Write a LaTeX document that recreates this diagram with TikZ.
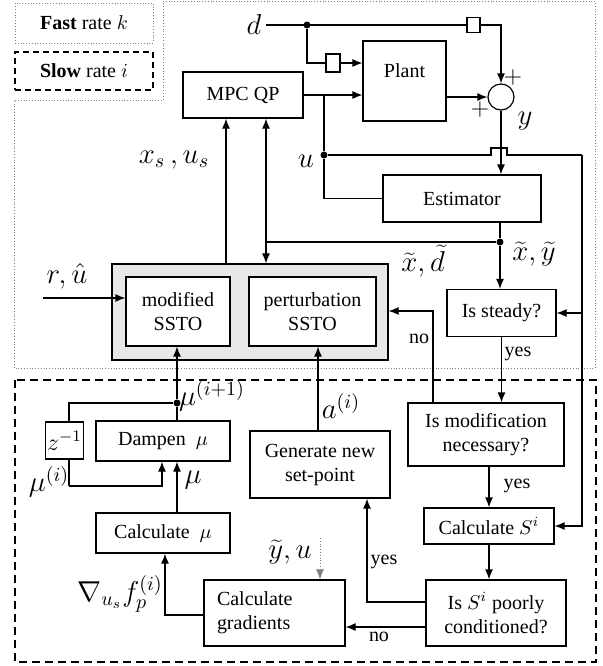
\documentclass[tikz,border=0pt]{standalone}
\usepackage{fontspec}
\setmainfont{Liberation Serif}
\usetikzlibrary{arrows.meta}
\newdimen\pu \pu=0.5pt

\begin{document}
\begin{tikzpicture}[x=0.5pt,y=-0.5pt,
  blk/.style={draw,semithick,fill=white,align=center,inner sep=1pt},
  ln/.style={draw,semithick},
  arr/.style={draw,semithick,-{Latex[length=5pt,width=4pt]}},
  lbl/.style={font=\Large,inner sep=0pt},
  txt/.style={inner sep=0pt},
  dot/.style={circle,fill,inner sep=0pt,minimum size=3.5pt}]
\useasboundingbox (0,0) rectangle (603,666);

% rate regions and key
\draw[densely dotted,gray] (163,1) -- (595,1) -- (595,368) -- (14,368) -- (14,100) -- (163,100) -- cycle;
\draw[semithick,dash pattern=on 4pt off 2.5pt] (15,380) rectangle (596,662);
\node[draw,densely dotted,gray,text=black,minimum width=138\pu,minimum height=40\pu] (fastkey) at (84,23) {\textbf{Fast} rate $k$};
\node[draw,semithick,dash pattern=on 3pt off 2pt,minimum width=138\pu,minimum height=38\pu] (slowkey) at (84,71) {\textbf{Slow} rate $i$};

% fast loop
\node[blk,minimum width=120\pu,minimum height=46\pu] (mpc) at (243,95) {MPC QP};
\node[blk,minimum width=83\pu,minimum height=80\pu] (plant) at (404.5,81) {};
\node[txt] (plantlbl) at (404.5,71) {Plant};
\node[draw,semithick,circle,minimum size=26\pu,inner sep=0pt] (sum) at (501,97) {};
\node[blk,minimum width=13\pu,minimum height=15\pu] (dly1) at (473.5,25) {};
\node[blk,minimum width=14\pu,minimum height=18\pu] (dly2) at (333,63) {};
\node[blk,minimum width=158\pu,minimum height=47\pu] (est) at (462,198.5) {Estimator};
\node[draw,semithick,fill=gray!18,minimum width=276\pu,minimum height=96\pu] (ssto) at (250,312) {};
\node[blk,minimum width=104\pu,minimum height=69\pu] (mod) at (178,311.5) {modified\\SSTO};
\node[blk,minimum width=127\pu,minimum height=69\pu] (pert) at (312.5,311.5) {perturbation\\SSTO};
\node[blk,minimum width=109\pu,minimum height=47\pu] (steady) at (501.5,313) {Is steady?};

% slow loop
\node[blk,minimum width=156\pu,minimum height=63\pu] (modif) at (486,434.5) {Is modification\\necessary?};
\node[blk,minimum width=130\pu,minimum height=36\pu] (calcS) at (489,526) {Calculate $S^i$};
\node[blk,minimum width=140\pu,minimum height=66\pu] (poor) at (496,613) {Is $S^i$ poorly\\conditioned?};
\node[blk,minimum width=140\pu,minimum height=67\pu] (gen) at (320,464.5) {Generate new\\set-point};
\node[blk,align=left,text width=115\pu,inner xsep=13\pu,minimum height=66\pu] (grad) at (274.5,613) {Calculate\\gradients};
\node[blk,minimum width=134\pu,minimum height=40\pu] (cmu) at (163,533) {Calculate ~$\mu$};
\node[blk,minimum width=134\pu,minimum height=40\pu] (damp) at (163,441) {Dampen ~$\mu$};
\node[blk,minimum width=37\pu,minimum height=37\pu,font=\large] (zinv) at (64.5,440.5) {$z^{-1}$};

% points
\coordinate (din) at (266,25);
\node[dot] (ddot) at (307,25) {};
\coordinate (ubr) at (324,95);
\node[dot] (udot) at (324,155) {};
\coordinate (rtop) at (582,155);
\node[dot] (edot) at (500,242) {};
\coordinate (xd) at (266,242);
\coordinate (xs) at (226,264);
\coordinate (rin) at (43,298);
\coordinate (noturn) at (433,311);
\coordinate (yt) at (367,602);
\coordinate (nt) at (400,627);
\coordinate (ax) at (318,400);
\coordinate (yu) at (320,538);
\coordinate (gt) at (165,615);
\node[dot] (mdot) at (177,403) {};
\coordinate (zt) at (69,403);
\coordinate (zb) at (69,486);
\coordinate (zr) at (162,486);

% fast connectors
\path[ln] (din) -- (dly1.west);
\path[arr] (dly1.east) -| (sum.north);
\path[ln] (ddot) |- (dly2.west);
\path[arr] (dly2.east) -- (dly2.east -| plant.west);
\path[arr] (mpc.east) -- (mpc.east -| plant.west);
\path[arr] (plant.east |- sum.west) -- (sum.west);
\path[ln] (ubr) -- (udot) |- (est.west);
\path[ln] (udot) -- (491,155) -- (491,148) -- (507,148) -- (507,155) -- (rtop);
\path[arr] (rtop) |- (calcS.east);
\path[arr] (rtop |- steady.east) -- (steady.east);
\path[arr] (sum.south) -- (sum.south |- est.north);
\path[ln] (est.south -| edot) -- (edot);
\path[arr] (edot) -- (edot |- steady.north);
\path[ln] (edot) -- (xd);
\path[arr] (xd) -- (xd |- mpc.south);
\path[arr] (xd) -- (xd |- ssto.north);
\path[arr] (xs) -- (xs |- mpc.south);
\path[arr] (rin) -- (rin -| mod.west);

% slow connectors
\path[arr] (modif.north -| noturn) -- (noturn) -- (noturn -| ssto.east);
\path[arr] (steady.south) -- (steady.south |- modif.north);
\path[arr] (modif.south -| calcS.north) -- (calcS.north);
\path[arr] (calcS.south) -- (calcS.south |- poor.north);
\path[arr] (poor.west |- yt) -- (yt) -- (yt |- gen.south);
\path[arr] (poor.west |- nt) -- (nt -| grad.east);
\path[arr] (gen.north -| ax) -- (ax |- pert.south);
\path[draw,densely dotted,gray,-{Latex[length=5pt,width=4pt]}] (yu) -- (yu |- grad.north);
\path[arr] (grad.west |- gt) -- (gt) -- (gt |- cmu.south);
\path[arr] (cmu.north -| mdot) -- (damp.south -| mdot);
\path[ln] (damp.north -| mdot) -- (mdot);
\path[arr] (mdot) -- (mdot |- mod.south);
\path[ln] (mdot) -- (zt) -- (zt |- zinv.north);
\path[ln] (zt |- zinv.south) -- (zb);
\path[arr] (zb) -- (zr) -- (zr |- damp.south);

% labels
\node[lbl] (dlbl) at (254,24) {$d$};
\node[lbl] (ylbl) at (525,121) {$y$};
\node[lbl] (ulbl) at (306,161) {$u$};
\node[txt,font=\large] (plus1) at (513,77) {$+$};
\node[txt,font=\large] (plus2) at (480,109) {$+$};
\node[lbl] (xslbl) at (174,160) {$x_s\,,u_s$};
\node[lbl] (rlbl) at (67,276) {$r,\hat u$};
\node[lbl] (xdlbl) at (423,261) {$\widetilde x,\widetilde d$};
\node[lbl] (xylbl) at (534,254) {$\widetilde x,\widetilde y$};
\node[txt] (nolbl1) at (419,339) {no};
\node[txt] (yeslbl1) at (518,354) {yes};
\node[txt] (yeslbl2) at (517,486) {yes};
\node[txt] (yeslbl3) at (384,562) {yes};
\node[txt] (nolbl2) at (379,637) {no};
\node[lbl] (alb) at (341,406) {$a^{(i)}$};
\node[lbl] (yulbl) at (290,552) {$\widetilde y,u$};
\node[lbl] (mup) at (212,396) {$\mu^{(i+1)}$};
\node[lbl] (mui) at (49,482) {$\mu^{(i)}$};
\node[lbl] (mulbl) at (193,480) {$\mu$};
\node[lbl] (gradlbl) at (120,594) {$\nabla_{u_s} f_p^{(i)}$};
\end{tikzpicture}
\end{document}
